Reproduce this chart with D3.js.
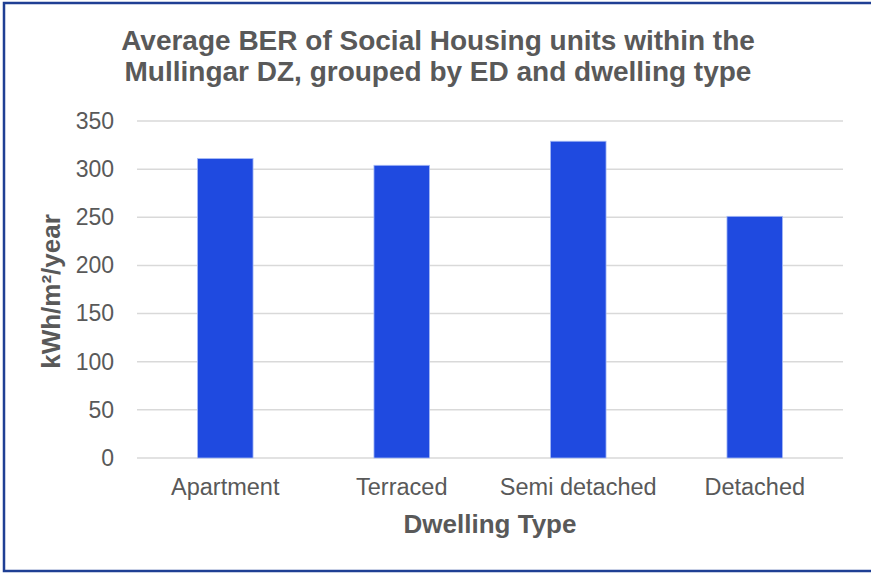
<!DOCTYPE html>
<html>
<head>
<meta charset="utf-8">
<script src="https://cdn.jsdelivr.net/npm/d3@7"></script>
<style>
  html, body { margin: 0; padding: 0; background: #fff; }
  svg { display: block; }
  text { font-family: "Liberation Sans", Arial, sans-serif; fill: #595959; }
</style>
</head>
<body>
<svg id="chart" width="871" height="573"></svg>
<script>
// Dwelling types and their average BER (kWh/m²/year)
const categories = ["Apartment", "Terraced", "Semi detached", "Detached"];
const values = [311, 304, 329, 251];
const yTicks = [0, 50, 100, 150, 200, 250, 300, 350];
const titleLines = [
  "Average BER of Social Housing units within the",
  "Mullingar DZ, grouped by ED and dwelling type"
];
const xTitle = "Dwelling Type";
const yTitle = "kWh/m²/year";

const W = 871, H = 573;
const margin = { top: 121, right: 28, bottom: 115, left: 137 };
const innerW = W - margin.left - margin.right;
const innerH = H - margin.top - margin.bottom;

const svg = d3.select("#chart");

// outer frame
svg.append("rect")
  .attr("x", 4).attr("y", 3)
  .attr("width", W + 10).attr("height", 568)
  .attr("fill", "#fff")
  .attr("stroke", "#1f3f94")
  .attr("stroke-width", 2.5);

const g = svg.append("g").attr("transform", `translate(${margin.left},${margin.top})`);

const x = d3.scaleBand()
  .domain(categories)
  .range([0, innerW])
  .paddingInner(0.685)
  .paddingOuter(0.3425);

const y = d3.scaleLinear()
  .domain([0, 350])
  .range([innerH, 0]);

// horizontal gridlines
g.append("g")
  .selectAll("line")
  .data(yTicks)
  .join("line")
  .attr("x1", 0).attr("x2", innerW)
  .attr("y1", d => y(d)).attr("y2", d => y(d))
  .attr("stroke", "#d9d9d9")
  .attr("stroke-width", 1.5);

// y axis labels
const yAxis = d3.axisLeft(y).tickValues(yTicks).tickSize(0).tickPadding(23);
g.append("g")
  .call(yAxis)
  .call(a => a.select(".domain").remove())
  .selectAll("text")
  .attr("font-size", 23)
  .attr("font-family", "Liberation Sans, Arial, sans-serif")
  .attr("fill", "#595959");

// bars
g.append("g")
  .selectAll("rect")
  .data(values)
  .join("rect")
  .attr("x", (d, i) => x(categories[i]))
  .attr("y", d => y(d))
  .attr("width", x.bandwidth())
  .attr("height", d => innerH - y(d))
  .attr("fill", "#1f4ae0")
  .attr("stroke", "#a9bcf5")
  .attr("stroke-width", 0.8);

// x axis labels
const xAxis = d3.axisBottom(x).tickSize(0).tickPadding(20);
g.append("g")
  .attr("transform", `translate(0,${innerH})`)
  .call(xAxis)
  .call(a => a.select(".domain").remove())
  .selectAll("text")
  .attr("font-size", 23.5)
  .attr("font-family", "Liberation Sans, Arial, sans-serif")
  .attr("fill", "#595959");

// chart title
svg.append("text")
  .attr("text-anchor", "middle")
  .attr("font-size", 28)
  .attr("font-weight", "bold")
  .selectAll("tspan")
  .data(titleLines)
  .join("tspan")
  .attr("x", 438)
  .attr("y", (d, i) => 50 + i * 31)
  .text(d => d);

// x axis title
svg.append("text")
  .attr("x", margin.left + innerW / 2)
  .attr("y", 533)
  .attr("text-anchor", "middle")
  .attr("font-size", 26)
  .attr("font-weight", "bold")
  .text(xTitle);

// y axis title
svg.append("text")
  .attr("transform", `translate(60,${margin.top + innerH / 2 + 2}) rotate(-90)`)
  .attr("text-anchor", "middle")
  .attr("font-size", 26)
  .attr("font-weight", "bold")
  .text(yTitle);
</script>
</body>
</html>
